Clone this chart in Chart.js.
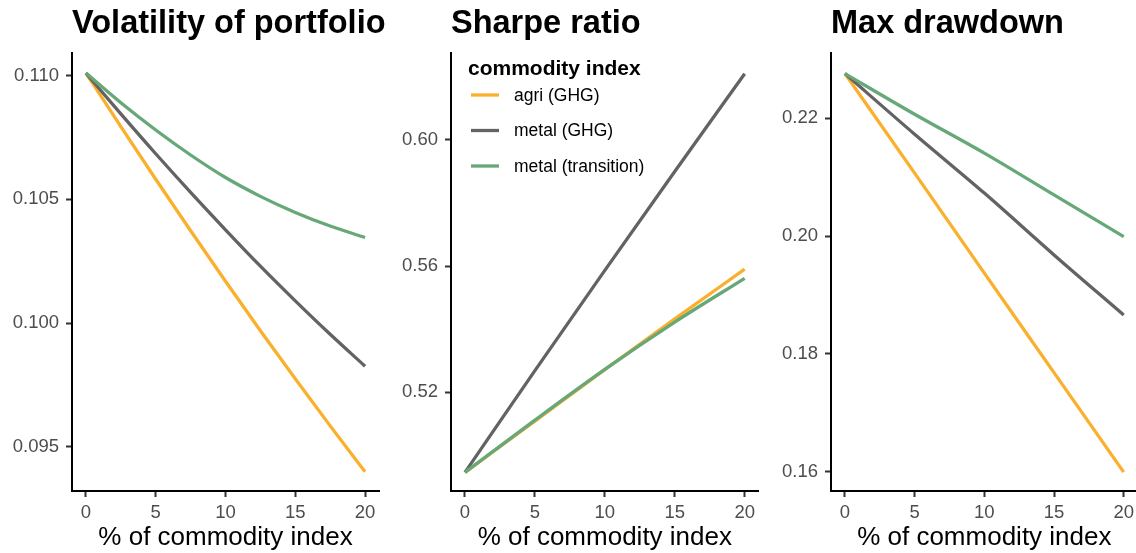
<!DOCTYPE html>
<html>
<head>
<meta charset="utf-8">
<script src="https://cdn.jsdelivr.net/npm/chart.js@4.4.1/dist/chart.umd.min.js"></script>
<style>
  html, body { margin: 0; padding: 0; background: #fff; }
  #wrap { position: relative; width: 1136px; height: 553px; overflow: hidden; }
  canvas { position: absolute; top: 0; }
</style>
</head>
<body>
<div id="wrap">
  <canvas id="vol" width="392" height="553" style="left:0px"></canvas>
  <canvas id="sharpe" width="380" height="553" style="left:380px"></canvas>
  <canvas id="mdd" width="379" height="553" style="left:760px"></canvas>
</div>
<script>
// ===== data =====
const seriesNames = ['agri (GHG)', 'metal (GHG)', 'metal (transition)'];
const seriesColors = ['#FBB02D', '#636363', '#66A877'];
const legendTitle = 'commodity index';

// x = % of commodity index
const xVol = [0, 2.5, 5, 7.5, 10, 12.5, 15, 17.5, 20];
const volAgri  = [0.11010, 0.10794, 0.10581, 0.10373, 0.10169, 0.09969, 0.09775, 0.09585, 0.09400];
const volMetal = [0.11010, 0.10845, 0.10684, 0.10528, 0.10377, 0.10230, 0.10090, 0.09955, 0.09826];
const volTrans = [0.11010, 0.10890, 0.10780, 0.10679, 0.10588, 0.10512, 0.10447, 0.10392, 0.10346];

const xSharpe = [0, 5, 10, 15, 20];
const sharpeAgri  = [0.4945, 0.5108, 0.5271, 0.5432, 0.5590];
const sharpeMetal = [0.4945, 0.5268, 0.5586, 0.5900, 0.6210];
const sharpeTrans = [0.4945, 0.5111, 0.5272, 0.5422, 0.5561];

const xMdd = [0, 5, 10, 15, 20];
const mddAgri  = [0.2276, 0.2107, 0.1937, 0.1768, 0.1599];
const mddMetal = [0.2276, 0.2173, 0.2073, 0.1968, 0.1866];
const mddTrans = [0.2276, 0.2207, 0.2141, 0.2070, 0.1999];

const xTicks = [0, 5, 10, 15, 20];
const volTicks = [0.095, 0.100, 0.105, 0.110];
const sharpeTicks = [0.52, 0.56, 0.60];
const mddTicks = [0.16, 0.18, 0.20, 0.22];

// axis limits (ggplot 5% expansion)
const xRange = [-1, 21];
const volRange = [0.09322, 0.11091];
const sharpeRange = [0.4886, 0.6276];
const mddRange = [0.1567, 0.2311];

const FONT = '"Liberation Sans", Arial, sans-serif';
Chart.defaults.font.family = FONT;

// panel title, left-aligned with the y axis line
const panelTitle = {
  id: 'panelTitle',
  afterDraw(chart, args, opts) {
    const { ctx, chartArea } = chart;
    ctx.save();
    ctx.font = 'bold 32.5px ' + FONT;
    ctx.fillStyle = '#000';
    ctx.textAlign = 'left';
    ctx.textBaseline = 'alphabetic';
    ctx.fillText(opts.text, chartArea.left, 33);
    ctx.restore();
  }
};

// ggplot-style legend inside the panel (top-left)
const insideLegend = {
  id: 'insideLegend',
  afterDraw(chart, args, opts) {
    if (!opts.show) return;
    const { ctx, chartArea } = chart;
    const x0 = chartArea.left, y0 = chartArea.top;
    ctx.save();
    ctx.fillStyle = '#000';
    ctx.textAlign = 'left';
    ctx.textBaseline = 'alphabetic';
    ctx.font = 'bold 21px ' + FONT;
    ctx.fillText(legendTitle, x0 + 17, y0 + 22);
    ctx.font = '17.5px ' + FONT;
    ctx.textBaseline = 'middle';
    chart.data.datasets.forEach((ds, i) => {
      const y = y0 + 42 + i * 35.5;
      ctx.strokeStyle = ds.borderColor;
      ctx.lineWidth = 3.3;
      ctx.beginPath();
      ctx.moveTo(x0 + 20, y);
      ctx.lineTo(x0 + 48, y);
      ctx.stroke();
      ctx.fillStyle = '#000';
      ctx.fillText(ds.label, x0 + 63, y + 1);
    });
    ctx.restore();
  }
};

function toPoints(xs, ys) {
  return xs.map((x, i) => ({ x: x, y: ys[i] }));
}

function buildPanel(canvasId, title, xs, seriesList, yTicks, yRange, decimals, yAxisWidth, padRight, showLegend) {
  const ctx = document.getElementById(canvasId).getContext('2d');
  return new Chart(ctx, {
    type: 'line',
    data: {
      datasets: seriesList.map((ys, i) => ({
        label: seriesNames[i],
        data: toPoints(xs, ys),
        borderColor: seriesColors[i],
        backgroundColor: seriesColors[i],
        borderWidth: 3.3,
        pointRadius: 0,
        cubicInterpolationMode: 'monotone',
        order: seriesList.length - i   // later series drawn on top, like ggplot
      }))
    },
    options: {
      responsive: false,
      devicePixelRatio: 1,
      animation: false,
      layout: { padding: { top: 53, right: padRight, bottom: 0, left: 0 } },
      plugins: {
        tooltip: { enabled: false },
        legend: { display: false },
        panelTitle: { text: title },
        insideLegend: { show: showLegend }
      },
      scales: {
        x: {
          type: 'linear',
          min: xRange[0], max: xRange[1],
          afterBuildTicks: s => { s.ticks = xTicks.map(v => ({ value: v })); },
          afterFit: s => { s.height = 62; },
          grid: { display: true, drawOnChartArea: false, drawTicks: true, tickLength: 6, tickWidth: 2, color: '#333' },
          border: { display: true, color: '#000', width: 2 },
          ticks: { color: '#4D4D4D', font: { size: 18.5 }, padding: 5, maxRotation: 0, callback: v => String(v) },
          title: { display: true, text: '% of commodity index', color: '#000', font: { size: 26 }, padding: { top: 0, bottom: 0 } }
        },
        y: {
          min: yRange[0], max: yRange[1],
          afterBuildTicks: s => { s.ticks = yTicks.map(v => ({ value: v })); },
          afterFit: s => { s.width = yAxisWidth; },
          grid: { display: true, drawOnChartArea: false, drawTicks: true, tickLength: 6, tickWidth: 2, color: '#333' },
          border: { display: true, color: '#000', width: 2 },
          ticks: { color: '#4D4D4D', font: { size: 18.5 }, padding: 7, callback: v => Number(v).toFixed(decimals) }
        }
      }
    },
    plugins: [panelTitle, insideLegend]
  });
}

buildPanel('vol', 'Volatility of portfolio', xVol, [volAgri, volMetal, volTrans], volTicks, volRange, 3, 72, 13, false);
buildPanel('sharpe', 'Sharpe ratio', xSharpe, [sharpeAgri, sharpeMetal, sharpeTrans], sharpeTicks, sharpeRange, 2, 71, 1, true);
buildPanel('mdd', 'Max drawdown', xMdd, [mddAgri, mddMetal, mddTrans], mddTicks, mddRange, 2, 71, 0, false);
</script>
</body>
</html>
